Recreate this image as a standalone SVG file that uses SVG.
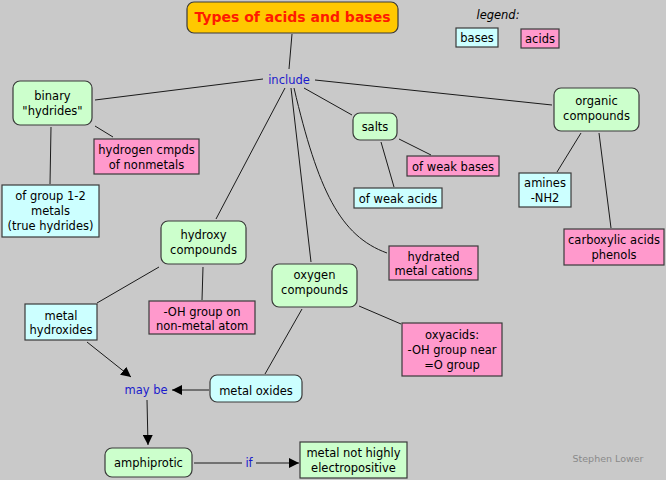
<svg xmlns="http://www.w3.org/2000/svg" width="666" height="480" viewBox="0 0 666 480">
<defs>
<style>
.bg{fill:#c9c9c9}
.n{stroke:#3a3a3a;stroke-width:1.2}
.g{fill:#ccffcc}
.c{fill:#ccffff}
.p{fill:#ff99cc}
.t{font-family:"DejaVu Sans",Verdana,sans-serif;font-size:11.5px;fill:#000;text-anchor:middle}
.l{font-family:"DejaVu Sans",Verdana,sans-serif;font-size:11.5px;fill:#1a1acc;text-anchor:middle}
.e{stroke:#1a1a1a;stroke-width:1;fill:none}
</style>
<marker id="ah" viewBox="0 0 10 10" refX="10" refY="5" markerWidth="10" markerHeight="10" markerUnits="userSpaceOnUse" orient="auto">
<path d="M0,0 L10,5 L0,10 z" fill="#000"/>
</marker>
</defs>
<rect class="bg" x="0" y="0" width="666" height="480"/>

<g id="connectors">
<line class="e" x1="292" y1="34" x2="289" y2="69"/>
<line class="e" x1="263" y1="79" x2="95" y2="100"/>
<line class="e" x1="315" y1="80" x2="552" y2="105"/>
<line class="e" x1="304" y1="88" x2="352" y2="115"/>
<line class="e" x1="285" y1="88" x2="216" y2="219"/>
<line class="e" x1="291" y1="88" x2="311" y2="262"/>
<path class="e" d="M294,88 C318,190 340,236 387,253"/>
<line class="e" x1="95" y1="126" x2="113" y2="137"/>
<line class="e" x1="51" y1="127" x2="50" y2="184"/>
<line class="e" x1="399" y1="139" x2="431" y2="155"/>
<line class="e" x1="381" y1="142" x2="394" y2="187"/>
<line class="e" x1="581" y1="133" x2="557" y2="172"/>
<line class="e" x1="599" y1="133" x2="611" y2="228"/>
<line class="e" x1="159" y1="267" x2="97" y2="303"/>
<line class="e" x1="203" y1="267" x2="202" y2="300"/>
<line class="e" x1="302" y1="309" x2="265" y2="374"/>
<line class="e" x1="359" y1="306" x2="401" y2="324"/>
<line class="e" x1="87" y1="342" x2="131" y2="377" marker-end="url(#ah)"/>
<line class="e" x1="209" y1="390" x2="172" y2="390" marker-end="url(#ah)"/>
<line class="e" x1="147" y1="400" x2="148" y2="445" marker-end="url(#ah)"/>
<line class="e" x1="194" y1="463" x2="242" y2="463"/>
<line class="e" x1="256" y1="463" x2="299" y2="463" marker-end="url(#ah)"/>
</g>

<g id="title">
<rect x="187" y="2" width="211" height="31" rx="7" fill="#ffc800" stroke="#3a3a3a" stroke-width="1.2"/>
<text x="292.5" y="22" text-anchor="middle" font-family="DejaVu Sans,Verdana,sans-serif" font-size="14" font-weight="bold" fill="#ff1a00">Types of acids and bases</text>
</g>

<g id="legend">
<text x="498" y="19" text-anchor="middle" font-family="DejaVu Sans,Verdana,sans-serif" font-size="11.5" font-style="italic" fill="#000">legend:</text>
<rect class="n c" x="456" y="28" width="42" height="19"/>
<text class="t" x="477" y="42">bases</text>
<rect class="n p" x="521" y="29" width="38" height="19"/>
<text class="t" x="540" y="43">acids</text>
</g>

<g id="include"><text class="l" x="289" y="84">include</text></g>

<g id="binary">
<rect class="n g" x="13" y="81" width="79" height="44" rx="7"/>
<text class="t" x="52.5" y="100">binary</text>
<text class="t" x="52.5" y="115">"hydrides"</text>
</g>

<g id="hydrogen">
<rect class="n p" x="94" y="139" width="105" height="35"/>
<text class="t" x="146.5" y="154">hydrogen cmpds</text>
<text class="t" x="146.5" y="169">of nonmetals</text>
</g>

<g id="group12">
<rect class="n c" x="2" y="185" width="97" height="52"/>
<text class="t" x="50.5" y="200">of group 1-2</text>
<text class="t" x="50.5" y="215">metals</text>
<text class="t" x="50.5" y="230">(true hydrides)</text>
</g>

<g id="salts">
<rect class="n g" x="353" y="113" width="44" height="27" rx="7"/>
<text class="t" x="375" y="131">salts</text>
</g>

<g id="organic">
<rect class="n g" x="554" y="88" width="85" height="43" rx="7"/>
<text class="t" x="596.5" y="105">organic</text>
<text class="t" x="596.5" y="120">compounds</text>
</g>

<g id="weakbases">
<rect class="n p" x="407" y="156" width="92" height="20"/>
<text class="t" x="453" y="171">of weak bases</text>
</g>

<g id="weakacids">
<rect class="n c" x="354" y="188" width="88" height="20"/>
<text class="t" x="398" y="203">of weak acids</text>
</g>

<g id="amines">
<rect class="n c" x="519" y="173" width="52" height="34"/>
<text class="t" x="545" y="187">amines</text>
<text class="t" x="545" y="202">-NH2</text>
</g>

<g id="carboxylic">
<rect class="n p" x="564" y="229" width="100" height="36"/>
<text class="t" x="614" y="244">carboxylic acids</text>
<text class="t" x="614" y="259">phenols</text>
</g>

<g id="hydroxy">
<rect class="n g" x="161" y="221" width="85" height="43" rx="7"/>
<text class="t" x="203.5" y="239">hydroxy</text>
<text class="t" x="203.5" y="254">compounds</text>
</g>

<g id="hydrated">
<rect class="n p" x="389" y="246" width="89" height="34"/>
<text class="t" x="433.5" y="261">hydrated</text>
<text class="t" x="433.5" y="275">metal cations</text>
</g>

<g id="oxygen">
<rect class="n g" x="272" y="264" width="85" height="43" rx="7"/>
<text class="t" x="314.5" y="279">oxygen</text>
<text class="t" x="314.5" y="294">compounds</text>
</g>

<g id="hydroxides">
<rect class="n c" x="25" y="304" width="72" height="36"/>
<text class="t" x="61" y="320">metal</text>
<text class="t" x="61" y="334">hydroxides</text>
</g>

<g id="ohgroup">
<rect class="n p" x="149" y="301" width="106" height="33"/>
<text class="t" x="202" y="316">-OH group on</text>
<text class="t" x="202" y="330">non-metal atom</text>
</g>

<g id="oxyacids">
<rect class="n p" x="402" y="323" width="100" height="53"/>
<text class="t" x="452" y="339">oxyacids:</text>
<text class="t" x="452" y="354">-OH group near</text>
<text class="t" x="452" y="369">=O group</text>
</g>

<g id="oxides">
<rect class="n c" x="210" y="375" width="92" height="27" rx="7"/>
<text class="t" x="256" y="395">metal oxides</text>
</g>

<g id="maybe"><text class="l" x="146" y="394">may be</text></g>

<g id="amphiprotic">
<rect class="n g" x="105" y="448" width="87" height="29" rx="7"/>
<text class="t" x="148.5" y="467">amphiprotic</text>
</g>

<g id="if"><text class="l" x="249" y="467">if</text></g>

<g id="notelectro">
<rect class="n g" x="300" y="442" width="107" height="36"/>
<text class="t" x="353.5" y="457">metal not highly</text>
<text class="t" x="353.5" y="472">electropositive</text>
</g>

<text x="608" y="462" text-anchor="middle" font-family="DejaVu Sans,Verdana,sans-serif" font-size="9.5" fill="#8a8a8a">Stephen Lower</text>
</svg>
